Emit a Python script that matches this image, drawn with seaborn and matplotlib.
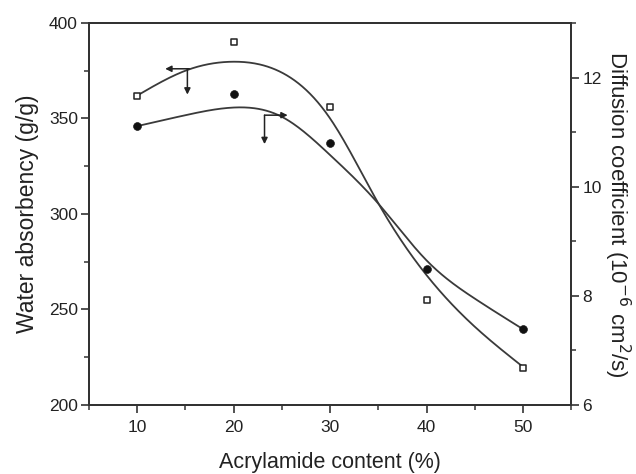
import numpy as np
import matplotlib
matplotlib.use("Agg")
import matplotlib.pyplot as plt
import seaborn as sns
from matplotlib.ticker import MultipleLocator

# ---- data ----
acrylamide = [10, 20, 30, 40, 50]
water_absorbency = [362, 390, 356, 255, 219.5]          # open squares, left axis
diffusion_coef = [11.11, 11.70, 10.80, 8.50, 7.39]      # filled circles, right axis

# fitted curves
fit_x = [10, 15, 20, 25, 30, 35, 40, 45, 50]
fit_water = [362, 375, 379.7, 374, 350, 305.6, 268, 241, 220]
fit_diff = [11.11, 11.31, 11.45, 11.28, 10.58, 9.69, 8.65, 7.95, 7.39]

sns.set_theme(style="ticks")
plt.rcParams['font.family'] = ['Liberation Sans', 'DejaVu Sans']

fig = plt.figure(figsize=(6.36, 4.74), dpi=100)
ax = fig.add_axes([0.140, 0.1456, 0.758, 0.806])
ax2 = ax.twinx()


def natural_spline(xs, ys, n=300):
    x = np.asarray(xs, float)
    y = np.asarray(ys, float)
    m = len(x)
    h = np.diff(x)
    A = np.zeros((m, m))
    b = np.zeros(m)
    A[0, 0] = A[-1, -1] = 1
    for i in range(1, m - 1):
        A[i, i - 1] = h[i - 1]
        A[i, i] = 2 * (h[i - 1] + h[i])
        A[i, i + 1] = h[i]
        b[i] = 6 * ((y[i + 1] - y[i]) / h[i] - (y[i] - y[i - 1]) / h[i - 1])
    M = np.linalg.solve(A, b)
    xx = np.linspace(x[0], x[-1], n)
    idx = np.clip(np.searchsorted(x, xx) - 1, 0, m - 2)
    x0, x1 = x[idx], x[idx + 1]
    hh = x1 - x0
    t0, t1 = x1 - xx, xx - x0
    yy = (M[idx] * t0 ** 3 + M[idx + 1] * t1 ** 3) / (6 * hh) \
        + (y[idx] / hh - M[idx] * hh / 6) * t0 + (y[idx + 1] / hh - M[idx + 1] * hh / 6) * t1
    return xx, yy


line_col = '#3a3a3a'
xx, yw = natural_spline(fit_x, fit_water)
sns.lineplot(x=xx, y=yw, ax=ax, color=line_col, lw=1.3)
xx2, yd = natural_spline(fit_x, fit_diff)
sns.lineplot(x=xx2, y=yd, ax=ax2, color=line_col, lw=1.3)

sns.scatterplot(x=acrylamide, y=water_absorbency, ax=ax, marker='s', s=22,
                facecolor='white', edgecolor='#222222', linewidth=1.1, zorder=5)
sns.scatterplot(x=acrylamide, y=diffusion_coef, ax=ax2, marker='o', s=32,
                color='#111111', edgecolor='#111111', zorder=5)

ax.set_xlim(5, 55)
ax.set_ylim(200, 400)
ax2.set_ylim(6, 13)
ax.xaxis.set_major_locator(MultipleLocator(10))
ax.xaxis.set_minor_locator(MultipleLocator(5))
ax.yaxis.set_major_locator(MultipleLocator(50))
ax.yaxis.set_minor_locator(MultipleLocator(25))
ax2.set_yticks([6, 8, 10, 12])
ax2.yaxis.set_minor_locator(MultipleLocator(1))

# arrows indicating axes
ap = dict(arrowstyle='-|>', color='#222222', lw=1.1, mutation_scale=9, shrinkA=0, shrinkB=0)
ax.annotate('', xy=(12.9, 376), xytext=(15.4, 376), arrowprops=ap)
ax.annotate('', xy=(15.2, 362.5), xytext=(15.2, 376), arrowprops=ap)
ax2.annotate('', xy=(25.6, 11.31), xytext=(23.2, 11.31), arrowprops=ap)
ax2.annotate('', xy=(23.2, 10.78), xytext=(23.2, 11.31), arrowprops=ap)

for a in (ax, ax2):
    for s in a.spines.values():
        s.set_linewidth(1.4)
        s.set_color('#333333')
    a.tick_params(which='major', direction='out', length=6, width=1.2, colors='#333333',
                  labelsize=12.5, labelcolor='#222222', pad=2)
    a.tick_params(which='minor', direction='out', length=3.5, width=1.1, colors='#333333')
    a.grid(False)
ax.tick_params(axis='x', which='major', pad=5)
ax.tick_params(axis='y', right=False, which='both')
ax2.tick_params(axis='y', left=False, which='both')

ax.set_xlabel('Acrylamide content (%)', fontsize=15.5, color='#222222', labelpad=12)
ax.set_ylabel('Water absorbency (g/g)', fontsize=16.5, color='#222222', labelpad=7)
ax2.set_ylabel('Diffusion coefficient (10$^{-6}$ cm$^{2}$/s)', fontsize=16,
               color='#222222', rotation=-90, labelpad=22)

fig.savefig('out.png', dpi=100)
